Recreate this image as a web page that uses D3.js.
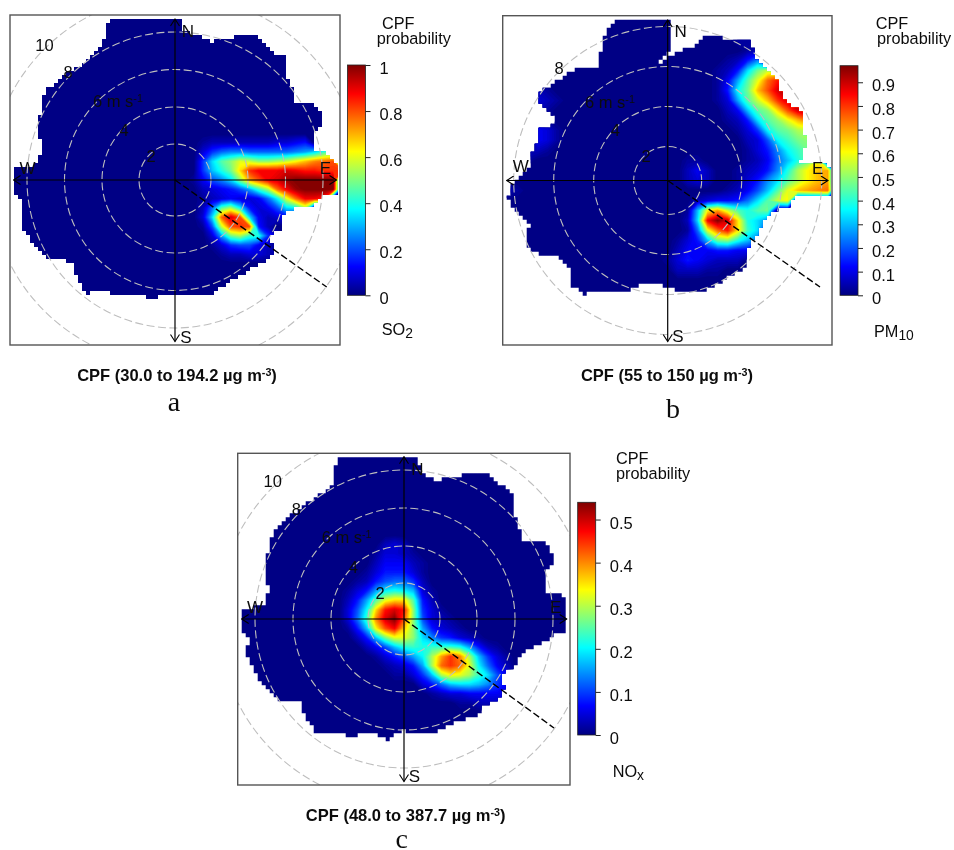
<!DOCTYPE html>
<html>
<head>
<meta charset="utf-8">
<script src="https://cdn.jsdelivr.net/npm/d3@7"></script>
<style>
  html, body { margin: 0; background: #fff; }
  svg { display: block; filter: blur(0.4px); }
  text { font-family: "Liberation Sans", Arial, sans-serif; fill: #0c0c0c; }
</style>
</head>
<body>
<svg id="chart" width="954" height="850"></svg>
<script>
// colour positions on the jet ramp
const jetStops = [0, 0.125, 0.25, 0.375, 0.5, 0.625, 0.75, 0.875, 1];
const jetColors = ["#00007f", "#0000ff", "#007fff", "#00ffff", "#7fff7f", "#ffff00", "#ff7f00", "#ff0000", "#7f0000"];

// CPF levels on a 0.5 m/s u/v grid: [row, first column, one base-36 level per column].
// row 20 / column 20 is calm, level 35 is the top of the colour bar, anything not listed is 0
const so2Levels = [
  [16, 23, "122222223345"],
  [17, 23, "36899888889acfhh"],
  [18, 23, "6cgilkiijkmoqrs"],
  [19, 23, "6behntvvvwvuuttt"],
  [20, 22, "1479cipsvwyzzzzz"],
  [21, 23, "23457afjrvyzzzz"],
  [22, 23, "12343348dlrvvu"],
  [23, 23, "28gjd5347cdj"],
  [24, 23, "3crwsc4234"],
  [25, 23, "17ksts52"],
  [26, 24, "3ahjfe62"],
  [27, 24, "1367742"],
  [28, 25, "1223321"]
];
const pm10Levels = [
  [6, 27, "111"],
  [7, 28, "12"],
  [8, 26, "1259"],
  [9, 25, "125chkk"],
  [10, 25, "14aglruu"],
  [11, 5, "2221"],
  [11, 25, "15dhoswy"],
  [12, 7, "321"],
  [12, 25, "13agkotwx"],
  [13, 7, "21"],
  [13, 26, "24bginswx"],
  [14, 7, "21"],
  [14, 26, "125cgilor"],
  [15, 7, "431"],
  [15, 27, "136dghjk"],
  [16, 7, "431"],
  [16, 28, "237dfhi"],
  [17, 6, "221"],
  [17, 28, "1359dfh"],
  [18, 5, "21"],
  [18, 22, "11"],
  [18, 28, "1248behm"],
  [19, 22, "242"],
  [19, 27, "12359ejmop"],
  [20, 22, "232"],
  [20, 27, "1359cgjmop"],
  [21, 3, "121"],
  [21, 26, "1247bglopqr"],
  [22, 23, "234458cgkm"],
  [23, 22, "1bmpkgegh"],
  [24, 22, "2cvzwnec9"],
  [25, 22, "18lrunfc"],
  [26, 21, "135bhieb8"],
  [27, 21, "24445544"],
  [28, 20, "13543222"],
  [29, 21, "22211"]
];
const noxLevels = [
  [12, 18, "232"],
  [13, 17, "13321"],
  [14, 17, "244421"],
  [15, 16, "1355531"],
  [16, 15, "12578862"],
  [17, 14, "135adedb31"],
  [18, 14, "25aglnng52"],
  [19, 14, "37dnuwui631"],
  [20, 14, "38fqwzsi7321"],
  [21, 14, "15bmsvoia5321"],
  [22, 15, "25bhllic965321"],
  [23, 16, "247befefffea521"],
  [24, 17, "1357adjptqjb631"],
  [25, 18, "1235ajrtrld842"],
  [26, 19, "1136bjmljfc74"],
  [27, 22, "358bccb964"],
  [28, 23, "123344443"],
  [29, 26, "112221"]
];

// outer edge of the filled surface, [u, v] in m/s, clockwise from north
const so2Edge = [[-3.32,8.69],[0.27,8.69],[0.45,8.06],[1.34,7.71],[1.88,7.44],[2.78,7.62],[3.67,7.8],[4.39,7.8],[4.75,7.35],[5.29,6.81],[5.91,6.63],[5.95,5.65],[6.27,5.02],[6.45,4.12],[7.53,4.03],[7.89,3.58],[7.8,2.78],[7.53,2.6],[7.53,1.52],[8.24,1.43],[8.69,0.9],[8.73,-0.75],[7.89,-0.81],[7.53,-1.43],[6.36,-1.52],[5.82,-1.97],[5.82,-2.51],[5.11,-3.05],[5.38,-3.94],[4.93,-4.39],[4.21,-4.66],[3.49,-5.2],[2.96,-5.47],[2.06,-6.09],[1.16,-6.27],[0,-6.09],[-0.81,-6.27],[-1.34,-6.45],[-1.7,-6.09],[-2.78,-6.18],[-3.85,-6],[-4.75,-6.09],[-5.29,-5.38],[-5.47,-4.39],[-6.72,-4.3],[-7.44,-3.67],[-8.15,-2.69],[-8.33,-1.79],[-8.24,-1.08],[-8.69,-0.54],[-8.73,0.63],[-7.53,0.72],[-7.17,1.43],[-7.35,2.87],[-7.08,4.48],[-6.81,4.93],[-6,5.65],[-4.93,6.27],[-3.85,7.35],[-3.67,8.33]];
const pm10Edge = [[-2.63,8.1],[0.03,8.1],[0.25,7.35],[0.2,6.68],[-0.38,6.1],[-0.38,5.85],[0.45,6.43],[1.45,6.77],[1.95,7.27],[2.45,7.27],[3.12,7.02],[4.2,6.93],[4.42,6.02],[4.95,5.43],[5.45,5.1],[5.7,4.18],[6.7,3.35],[6.78,2.43],[6.95,1.85],[6.62,0.85],[8.08,0.73],[8.08,-0.73],[6.45,-0.78],[6.03,-1.35],[5.53,-1.48],[4.95,-1.82],[4.37,-2.82],[3.95,-3.4],[3.92,-4.32],[3.12,-4.82],[1.78,-5.57],[0.95,-5.65],[-0.05,-5.32],[-1.05,-5.07],[-1.88,-5.48],[-3.38,-5.57],[-4.3,-5.68],[-4.88,-5.15],[-4.92,-4.48],[-5.55,-3.82],[-6.13,-3.78],[-6.97,-3.4],[-7.13,-2.65],[-6.88,-2.32],[-7.47,-1.65],[-7.97,-0.98],[-7.88,-0.23],[-6.8,0.68],[-6.8,1.35],[-6.5,1.85],[-6.47,2.52],[-5.63,2.82],[-5.63,3.1],[-6.47,3.85],[-6.47,4.27],[-6.13,4.6],[-4.47,5.68],[-3.55,5.68],[-3.38,6.35],[-3.13,7.35]];
const noxEdge = [[-3.69,8.24],[-3.33,8.73],[0.77,8.73],[0.86,7.97],[1.57,7.43],[2.64,7.52],[3.71,7.88],[4.42,7.88],[4.96,7.25],[5.94,6.72],[5.94,5.56],[6.38,4.22],[7.54,4.05],[7.9,3.6],[7.9,2.89],[7.54,2.62],[7.54,1.46],[8.34,1.37],[8.73,0.84],[8.73,-0.77],[7.99,-0.8],[7.81,-1.12],[6.38,-1.84],[6.02,-2.37],[5.13,-3.17],[5.45,-3.71],[4.96,-4.33],[4.24,-4.69],[3.89,-5.22],[2.64,-5.58],[1.57,-6.2],[0.68,-6.11],[-0.12,-5.94],[-0.75,-6.47],[-1.28,-6.38],[-1.64,-6.11],[-2.89,-6.29],[-3.78,-6.02],[-4.67,-6.11],[-5.38,-5.04],[-5.56,-4.33],[-6.63,-4.33],[-7.52,-3.62],[-8.06,-2.55],[-8.41,-2.01],[-8.32,-1.12],[-8.73,-0.59],[-8.73,0.57],[-7.52,0.66],[-7.25,1.46],[-7.38,2.8],[-7.25,3.69],[-7.02,4.49],[-6.45,5.29],[-5.03,6.27],[-3.69,7.25]];

const so2Ticks = [0, 0.2, 0.4, 0.6, 0.8, 1];
const pm10Ticks = [0, 0.1, 0.2, 0.3, 0.4, 0.5, 0.6, 0.7, 0.8, 0.9];
const noxTicks = [0, 0.1, 0.2, 0.3, 0.4, 0.5];

const panels = [
  {
    id: "a", levels: so2Levels, edge: so2Edge, ticks: so2Ticks, top: 1,
    cx: 175, cy: 180, perMs: 18.6, box: [10, 15, 340, 345],
    rings: [[2, 36], [4, 73], [6, 110.5], [8, 148], [10, 185]],
    arrows: { n: 19, s: 341.5, w: 13.5, e: 336.5 }, slantEnd: [326.7, 287],
    bar: [347.5, 65, 18, 230.3],
    dirs: { N: [188, 36.5], E: [325.5, 174], S: [186, 343], W: [27.5, 173.5] },
    speeds: [["10", 44.5, 50.5], ["8", 68, 78], ["4", 124, 136], ["2", 151, 162]], sixAt: [93, 106.5],
    head: [[382, 29], [376.7, 44]], species: ["SO", "2", 381.7, 335],
    title: ["CPF (30.0 to 194.2 µg m", 177, 381], letter: ["a", 174, 411]
  },
  {
    id: "b", levels: pm10Levels, edge: pm10Edge, ticks: pm10Ticks, top: 0.97,
    cx: 667.7, cy: 180.5, perMs: 20, box: [502.7, 15.7, 832, 345],
    rings: [[2, 34], [4, 74], [6, 114], [8, 154]],
    arrows: { n: 20, s: 341.5, w: 506.7, e: 828 }, slantEnd: [820, 287],
    bar: [840, 65.7, 18, 229.6],
    dirs: { N: [680.7, 37], E: [817.7, 174], S: [678, 342], W: [520.7, 171.5] },
    speeds: [["8", 559, 74], ["4", 615.3, 136], ["2", 646, 161.5]], sixAt: [585, 107.5],
    head: [[875.7, 29], [877, 44]], species: ["PM", "10", 874, 337],
    title: ["CPF (55 to 150 µg m", 667, 380.7], letter: ["b", 673, 417.7]
  },
  {
    id: "c", levels: noxLevels, edge: noxEdge, ticks: noxTicks, top: 0.54,
    cx: 404, cy: 619, perMs: 18.7, box: [237.7, 453.3, 570, 785],
    rings: [[2, 36], [4, 73], [6, 111], [8, 149], [10, 186]],
    arrows: { n: 456.7, s: 781.5, w: 241.7, e: 566.7 }, slantEnd: [554, 728],
    bar: [577.7, 502.3, 18, 232.7],
    dirs: { N: [417.3, 474.5], E: [555.7, 612.5], S: [414.3, 782], W: [255, 612.5] },
    speeds: [["10", 272.7, 487], ["8", 296.3, 515], ["4", 353.3, 572.5], ["2", 380, 599]], sixAt: [321.7, 543],
    head: [[616, 464], [616, 479]], species: ["NO", "x", 612.7, 777],
    title: ["CPF (48.0 to 387.7 µg m", 405.7, 820.7], letter: ["c", 401.7, 848]
  }
];

const svg = d3.select("#chart");
const defs = svg.append("defs");

defs.append("marker")
  .attr("id", "arrow")
  .attr("viewBox", "-8 -5 9 10")
  .attr("refX", 0).attr("refY", 0)
  .attr("markerUnits", "userSpaceOnUse")
  .attr("markerWidth", 9).attr("markerHeight", 10)
  .attr("orient", "auto-start-reverse")
  .append("path")
  .attr("d", "M-7,-4.5L0,0L-7,4.5")
  .attr("fill", "none")
  .attr("stroke", "#000")
  .attr("stroke-width", 1.1);

const GRID = 41;

function levelsToValues(levels, top) {
  const values = new Array(GRID * GRID).fill(0);
  levels.forEach(([row, col, str]) => {
    [...str].forEach((c, k) => {
      values[row * GRID + col + k] = parseInt(c, 36) / 35 * top;
    });
  });
  return values;
}

function addSup(sel, base, sup) {
  sel.append("tspan").text(base);
  sel.append("tspan").attr("dy", -5).attr("font-size", "0.65em").text(sup);
}

panels.forEach((p) => {
  const [x0, y0, x1, y1] = p.box;
  const g = svg.append("g");

  const jet = d3.scaleLinear()
    .domain(jetStops.map((s) => s * p.top))
    .range(jetColors)
    .clamp(true);

  // surface
  const xGrid = d3.scaleLinear().domain([0.5, GRID - 0.5]).range([p.cx - 10 * p.perMs, p.cx + 10 * p.perMs]);
  const yGrid = d3.scaleLinear().domain([0.5, GRID - 0.5]).range([p.cy - 10 * p.perMs, p.cy + 10 * p.perMs]);
  const path = d3.geoPath(d3.geoTransform({
    point(x, y) { this.stream.point(xGrid(x), yGrid(y)); }
  }));

  const step = p.top / 80;
  const bands = d3.contours()
    .size([GRID, GRID])
    .thresholds(d3.range(0, p.top, step))(levelsToValues(p.levels, p.top));

  // stepped outline, 4px blocks like the original raster
  const clip = d3.path();
  for (let px = x0; px < x1; px += 4) {
    for (let py = y0; py < y1; py += 4) {
      const u = (px + 2 - p.cx) / p.perMs;
      const v = (p.cy - py - 2) / p.perMs;
      if (d3.polygonContains(p.edge, [u, v])) clip.rect(px, py, 4, 4);
    }
  }
  defs.append("clipPath").attr("id", "edge-" + p.id)
    .append("path").attr("d", clip.toString());
  defs.append("clipPath").attr("id", "box-" + p.id)
    .append("rect").attr("x", x0).attr("y", y0).attr("width", x1 - x0).attr("height", y1 - y0);

  g.append("g")
    .attr("clip-path", `url(#edge-${p.id})`)
    .selectAll("path")
    .data(bands)
    .join("path")
    .attr("d", path)
    .attr("fill", (d) => jet(d.value + step / 2));

  // speed rings
  g.append("g")
    .attr("clip-path", `url(#box-${p.id})`)
    .selectAll("circle")
    .data(p.rings)
    .join("circle")
    .attr("cx", p.cx)
    .attr("cy", p.cy)
    .attr("r", (d) => d[1])
    .attr("fill", "none")
    .attr("stroke", "#bebebe")
    .attr("stroke-width", 1.1)
    .attr("stroke-dasharray", "8 3.5");

  // compass axes and the dashed bearing line
  g.append("line")
    .attr("x1", p.cx).attr("x2", p.cx)
    .attr("y1", p.arrows.n).attr("y2", p.arrows.s)
    .attr("stroke", "#000").attr("stroke-width", 1.2)
    .attr("marker-start", "url(#arrow)").attr("marker-end", "url(#arrow)");
  g.append("line")
    .attr("x1", p.arrows.w).attr("x2", p.arrows.e)
    .attr("y1", p.cy).attr("y2", p.cy)
    .attr("stroke", "#000").attr("stroke-width", 1.2)
    .attr("marker-start", "url(#arrow)").attr("marker-end", "url(#arrow)");
  g.append("line")
    .attr("x1", p.cx).attr("y1", p.cy)
    .attr("x2", p.slantEnd[0]).attr("y2", p.slantEnd[1])
    .attr("stroke", "#000").attr("stroke-width", 1.4)
    .attr("stroke-dasharray", "7 3");

  g.append("rect")
    .attr("x", x0).attr("y", y0)
    .attr("width", x1 - x0).attr("height", y1 - y0)
    .attr("fill", "none")
    .attr("stroke", "#555")
    .attr("stroke-width", 1.4);

  // labels inside the plot
  Object.entries(p.dirs).forEach(([name, pos]) => {
    g.append("text").attr("x", pos[0]).attr("y", pos[1])
      .attr("text-anchor", "middle").attr("font-size", 17).text(name);
  });
  p.speeds.forEach(([label, x, y]) => {
    g.append("text").attr("x", x).attr("y", y)
      .attr("text-anchor", "middle").attr("font-size", 16.5).text(label);
  });
  addSup(g.append("text").attr("x", p.sixAt[0]).attr("y", p.sixAt[1]).attr("font-size", 16.5), "6 m s", "-1");

  // colour bar
  const [bx, by, bw, bh] = p.bar;
  const barY = d3.scaleLinear().domain([0, p.top]).range([by + bh, by]);
  const grad = defs.append("linearGradient")
    .attr("id", "ramp-" + p.id)
    .attr("x1", 0).attr("x2", 0).attr("y1", 1).attr("y2", 0);
  grad.selectAll("stop")
    .data(jetStops)
    .join("stop")
    .attr("offset", (d) => d)
    .attr("stop-color", (d, i) => jetColors[i]);
  g.append("rect")
    .attr("x", bx).attr("y", by)
    .attr("width", bw).attr("height", bh)
    .attr("fill", `url(#ramp-${p.id})`)
    .attr("stroke", "#222").attr("stroke-width", 0.8);

  const axis = g.append("g")
    .attr("transform", `translate(${bx + bw},0)`)
    .call(d3.axisRight(barY).tickValues(p.ticks).tickSize(5).tickPadding(9).tickFormat(d3.format("~g")));
  axis.select(".domain").remove();
  axis.selectAll("line").attr("stroke", "#222");
  axis.selectAll("text")
    .attr("font-size", 16.5)
    .attr("font-family", '"Liberation Sans", Arial, sans-serif')
    .attr("dy", "0.52em");

  g.append("text").attr("x", p.head[0][0]).attr("y", p.head[0][1]).attr("font-size", 16.3).text("CPF");
  g.append("text").attr("x", p.head[1][0]).attr("y", p.head[1][1]).attr("font-size", 16.3).text("probability");

  const species = g.append("text").attr("x", p.species[2]).attr("y", p.species[3]).attr("font-size", 16.3);
  species.append("tspan").text(p.species[0]);
  species.append("tspan").attr("dy", 3).attr("font-size", "0.85em").text(p.species[1]);

  // caption and panel letter
  const title = g.append("text")
    .attr("x", p.title[1]).attr("y", p.title[2])
    .attr("text-anchor", "middle")
    .attr("font-size", 16.5)
    .attr("font-weight", "bold");
  addSup(title, p.title[0], "-3");
  title.append("tspan").attr("dy", 5).text(")");

  g.append("text")
    .attr("x", p.letter[1]).attr("y", p.letter[2])
    .attr("text-anchor", "middle")
    .attr("font-size", 28)
    .style("font-family", '"Liberation Serif", "Times New Roman", serif')
    .text(p.letter[0]);
});
</script>
</body>
</html>
